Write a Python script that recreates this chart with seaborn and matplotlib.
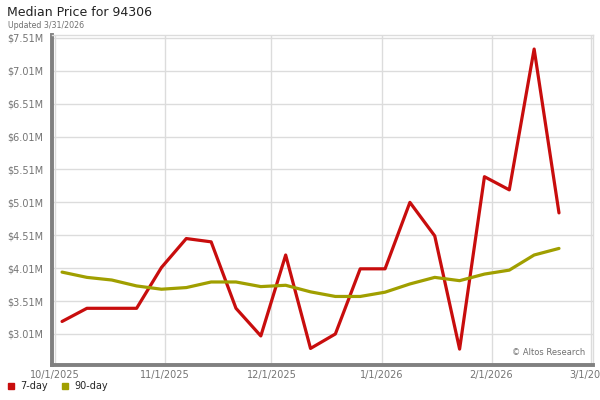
import pandas as pd
import numpy as np
import matplotlib
matplotlib.use('Agg')
import matplotlib.pyplot as plt
import matplotlib.dates as mdates
from matplotlib.lines import Line2D
import seaborn as sns

# weekly data points (values in $M)
dates = pd.date_range('2025-10-03', periods=21, freq='7D')
price_7day = [3.20, 3.40, 3.40, 3.40, 4.02, 4.46, 4.41, 3.40, 2.98, 4.21, 2.79,
              3.01, 4.00, 4.00, 5.01, 4.50, 2.78, 5.40, 5.20, 7.34, 4.85]
price_90day = [3.95, 3.87, 3.83, 3.74, 3.69, 3.715, 3.80, 3.80, 3.73, 3.75, 3.65,
               3.58, 3.58, 3.645, 3.77, 3.87, 3.82, 3.92, 3.98, 4.21, 4.31]
y_ticks = [3.01, 3.51, 4.01, 4.51, 5.01, 5.51, 6.01, 6.51, 7.01, 7.51]
x_ticks = ['2025-10-01', '2025-11-01', '2025-12-01', '2026-01-01', '2026-02-01', '2026-03-01']

red = '#c80d0d'
olive = '#a09f00'

df = pd.DataFrame({'date': list(dates) * 2,
                   'price': price_7day + price_90day,
                   'series': ['7-day'] * 21 + ['90-day'] * 21})

sns.set_style('white')
plt.rcParams['font.family'] = ['DejaVu Sans']

fig = plt.figure(figsize=(6, 4), dpi=100)
ax = fig.add_axes([51.7 / 600, 35.5 / 400, (593 - 51.7) / 600, (365 - 35) / 400])

sns.lineplot(data=df, x='date', y='price', hue='series',
             palette={'7-day': red, '90-day': olive}, linewidth=2.3,
             legend=False, ax=ax)

ax.set_ylim(2.546, 7.561)
ax.set_xlim(pd.Timestamp('2025-09-30 02:00'), pd.Timestamp('2026-03-01 14:00'))
ax.set_yticks(y_ticks)
ax.set_yticklabels([f'${v:.2f}M' for v in y_ticks])
xt = pd.to_datetime(x_ticks)
ax.set_xticks(xt)
ax.set_xticklabels([f'{d.month}/{d.day}/{d.year}' for d in xt])
ax.set_xlabel('')
ax.set_ylabel('')

ax.grid(True, color='#dcdcdc', linewidth=1)
ax.set_axisbelow(True)
ax.tick_params(axis='both', length=0, labelsize=7, labelcolor='#747474')
ax.tick_params(axis='y', pad=6)
ax.tick_params(axis='x', pad=4)
for s in ['left', 'bottom']:
    ax.spines[s].set_color('#808080')
    ax.spines[s].set_linewidth(2.8)
for s in ['top', 'right']:
    ax.spines[s].set_color('#dcdcdc')
    ax.spines[s].set_linewidth(1)

ax.text(0.985, 0.035, '\u00a9 Altos Research', transform=ax.transAxes,
        ha='right', va='center', fontsize=6, color='#707070')

fig.text(7 / 600, 1 - 12 / 400, 'Median Price for 94306', fontsize=9,
         va='center', ha='left', color='#222222')
fig.text(8 / 600, 1 - 25 / 400, 'Updated 3/31/2026', fontsize=5.7,
         va='center', ha='left', color='#707070')

handles = [Line2D([], [], marker='s', linestyle='', color=red, markersize=4.5),
           Line2D([], [], marker='s', linestyle='', color=olive, markersize=4.5)]
fig.legend(handles, ['7-day', '90-day'], loc='center left',
           bbox_to_anchor=(4 / 600, 1 - 386 / 400), ncol=2, frameon=False,
           fontsize=7, handlelength=0.8, handletextpad=0.6, columnspacing=1.3,
           borderaxespad=0, borderpad=0.3)

fig.savefig('out.png', dpi=100)
